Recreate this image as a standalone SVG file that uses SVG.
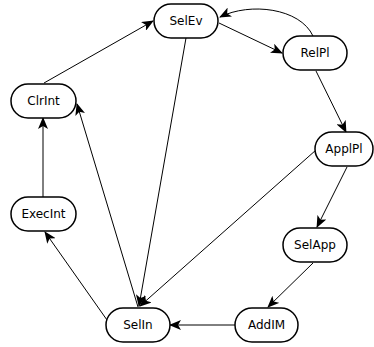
<svg xmlns="http://www.w3.org/2000/svg" width="374" height="347" viewBox="0 0 374 347">
<style>
.n rect{fill:#fff;stroke:#000;stroke-width:1.5}
.n text{font-family:"DejaVu Sans",Verdana,sans-serif;font-size:12px;fill:#000;text-anchor:middle;dominant-baseline:central}
.e path{fill:none;stroke:#000;stroke-width:1;marker-end:url(#ah)}
</style>
<defs>
<marker id="ah" viewBox="0 0 12 10" refX="11" refY="5" markerWidth="12" markerHeight="10" markerUnits="userSpaceOnUse" orient="auto">
<path d="M0,0 L12,5 L0,10 L3,5 z" fill="#000"/>
</marker>
</defs>
<g class="e">
<path d="M44,83 L153,21"/>
<path d="M219,23 L282,53"/>
<path d="M313,36 C300,8 250,2 220,17"/>
<path d="M316,71 L346,132"/>
<path d="M347,167 L317,227"/>
<path d="M316,150 L140,306"/>
<path d="M186,38 L139,306"/>
<path d="M138,307 L77,104"/>
<path d="M107,320 L45,232"/>
<path d="M43,197 L43,118"/>
<path d="M313,263 L268,307"/>
<path d="M235,325 L170,325"/>
</g>
<g id="SelEv" class="n"><rect x="154" y="4" width="64" height="34" rx="17"/><text x="186" y="21">SelEv</text></g>
<g id="RelPl" class="n"><rect x="283" y="36" width="64" height="34" rx="17"/><text x="315" y="53">RelPl</text></g>
<g id="ClrInt" class="n"><rect x="11" y="84" width="65" height="34" rx="17"/><text x="43.5" y="101">ClrInt</text></g>
<g id="ApplPl" class="n"><rect x="315" y="132" width="58" height="34" rx="17"/><text x="344" y="149">ApplPl</text></g>
<g id="ExecInt" class="n"><rect x="11" y="197" width="65" height="34" rx="17"/><text x="43.5" y="214">ExecInt</text></g>
<g id="SelApp" class="n"><rect x="283" y="228" width="64" height="34" rx="17"/><text x="315" y="245">SelApp</text></g>
<g id="SelIn" class="n"><rect x="106" y="308" width="64" height="34" rx="17"/><text x="138" y="325">SelIn</text></g>
<g id="AddIM" class="n"><rect x="235" y="308" width="63" height="34" rx="17"/><text x="266.5" y="325">AddIM</text></g>
</svg>
